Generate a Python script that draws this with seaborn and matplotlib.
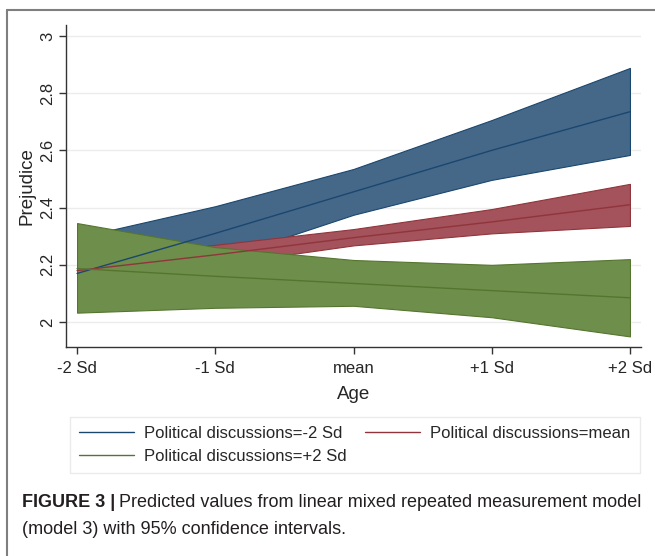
import matplotlib
matplotlib.use("Agg")
import matplotlib.pyplot as plt
import seaborn as sns
import pandas as pd
from matplotlib.lines import Line2D

# age levels on the x axis
age_pos = [-2, -1, 0, 1, 2]
age_labels = ["-2 Sd", "-1 Sd", "mean", "+1 Sd", "+2 Sd"]

# predicted prejudice with 95% CI, per level of political discussions
blue_mid = [2.17, 2.31, 2.455, 2.60, 2.735]
blue_lo = [2.045, 2.215, 2.375, 2.497, 2.584]
blue_hi = [2.295, 2.405, 2.535, 2.706, 2.888]

red_mid = [2.18, 2.235, 2.295, 2.35, 2.41]
red_lo = [2.135, 2.20, 2.268, 2.31, 2.336]
red_hi = [2.225, 2.27, 2.325, 2.395, 2.483]

green_mid = [2.187, 2.16, 2.135, 2.11, 2.085]
green_lo = [2.033, 2.05, 2.057, 2.017, 1.95]
green_hi = [2.346, 2.262, 2.217, 2.20, 2.22]

groups = ["Political discussions=-2 Sd", "Political discussions=mean",
          "Political discussions=+2 Sd"]
line_cols = ["#1a476f", "#90353b", "#55752f"]
fill_cols = ["#456889", "#a4525b", "#6e8e4b"]

mids = [blue_mid, red_mid, green_mid]
los = [blue_lo, red_lo, green_lo]
his = [blue_hi, red_hi, green_hi]

rows = []
for g, m in zip(groups, mids):
    for x, v in zip(age_pos, m):
        rows.append({"age": x, "prejudice": v, "group": g})
df = pd.DataFrame(rows)

sns.set_style("white")
plt.rcParams["font.family"] = ["Liberation Sans", "DejaVu Sans"]

fig = plt.figure(figsize=(6.55, 5.56), dpi=100)
ax = fig.add_axes([66 / 655, 1 - 347 / 556, (641 - 66) / 655, (347 - 25) / 556])

for y in [2, 2.2, 2.4, 2.6, 2.8, 3]:
    ax.axhline(y, color="#ececec", lw=1, zorder=0)

for lo, hi, fc, lc in zip(los, his, fill_cols, line_cols):
    ax.fill_between(age_pos, lo, hi, facecolor=fc, edgecolor=lc, lw=0.8, zorder=2)

sns.lineplot(data=df, x="age", y="prejudice", hue="group", hue_order=groups,
             palette=line_cols, lw=1, legend=False, ax=ax, zorder=3)

ax.set_xlim(-2.08, 2.08)
ax.set_ylim(1.913, 3.038)
ax.set_xticks(age_pos)
ax.set_xticklabels(age_labels)
ax.set_yticks([2, 2.2, 2.4, 2.6, 2.8, 3])
ax.set_yticklabels(["2", "2.2", "2.4", "2.6", "2.8", "3"], rotation=90, va="center")
ax.tick_params(axis="both", direction="out", length=5, width=1, color="#333333",
               labelsize=12, pad=3, bottom=True, left=True)
ax.tick_params(axis="x", pad=5)
for s in ["top", "right"]:
    ax.spines[s].set_visible(False)
for s in ["left", "bottom"]:
    ax.spines[s].set_color("#333333")
    ax.spines[s].set_linewidth(1)
ax.set_xlabel("Age", fontsize=13.5, labelpad=7)
ax.set_ylabel("Prejudice", fontsize=13.5, labelpad=3)

# legend fills column by column, so reorder to get blue, red / green rows
handles = [Line2D([], [], color=c, lw=1) for c in line_cols]
order = [0, 2, 1]
leg = fig.legend([handles[i] for i in order], [groups[i] for i in order],
                 loc="upper left", bbox_to_anchor=(70 / 655, 1 - 417 / 556),
                 borderaxespad=0, ncol=2, fontsize=12, frameon=True, fancybox=False,
                 handlelength=3.3, handletextpad=0.6, columnspacing=1.1,
                 borderpad=0.55, labelspacing=0.47)
leg.get_frame().set_edgecolor("#e6e6e6")
leg.get_frame().set_linewidth(1)

# outer figure frame (left and top only)
fig.add_artist(Line2D([7 / 655, 7 / 655], [0, 1 - 10 / 556], color="#7f7f7f", lw=1.5))
fig.add_artist(Line2D([7 / 655, 1], [1 - 10 / 556, 1 - 10 / 556], color="#7f7f7f", lw=1.5))

cap_col = "#231f20"
t1 = fig.text(22 / 655, 1 - 507 / 556, "FIGURE 3 |", fontsize=13, fontweight="bold",
              color=cap_col, ha="left", va="baseline")
fig.canvas.draw()
bb = t1.get_window_extent()
fig.text(bb.x1 / fig.bbox.width + 4 / 655, 1 - 507 / 556,
         "Predicted values from linear mixed repeated measurement model",
         fontsize=13, color=cap_col, ha="left", va="baseline")
fig.text(22 / 655, 1 - 534 / 556, "(model 3) with 95% confidence intervals.",
         fontsize=13, color=cap_col, ha="left", va="baseline")

fig.savefig("out.png", dpi=100)
